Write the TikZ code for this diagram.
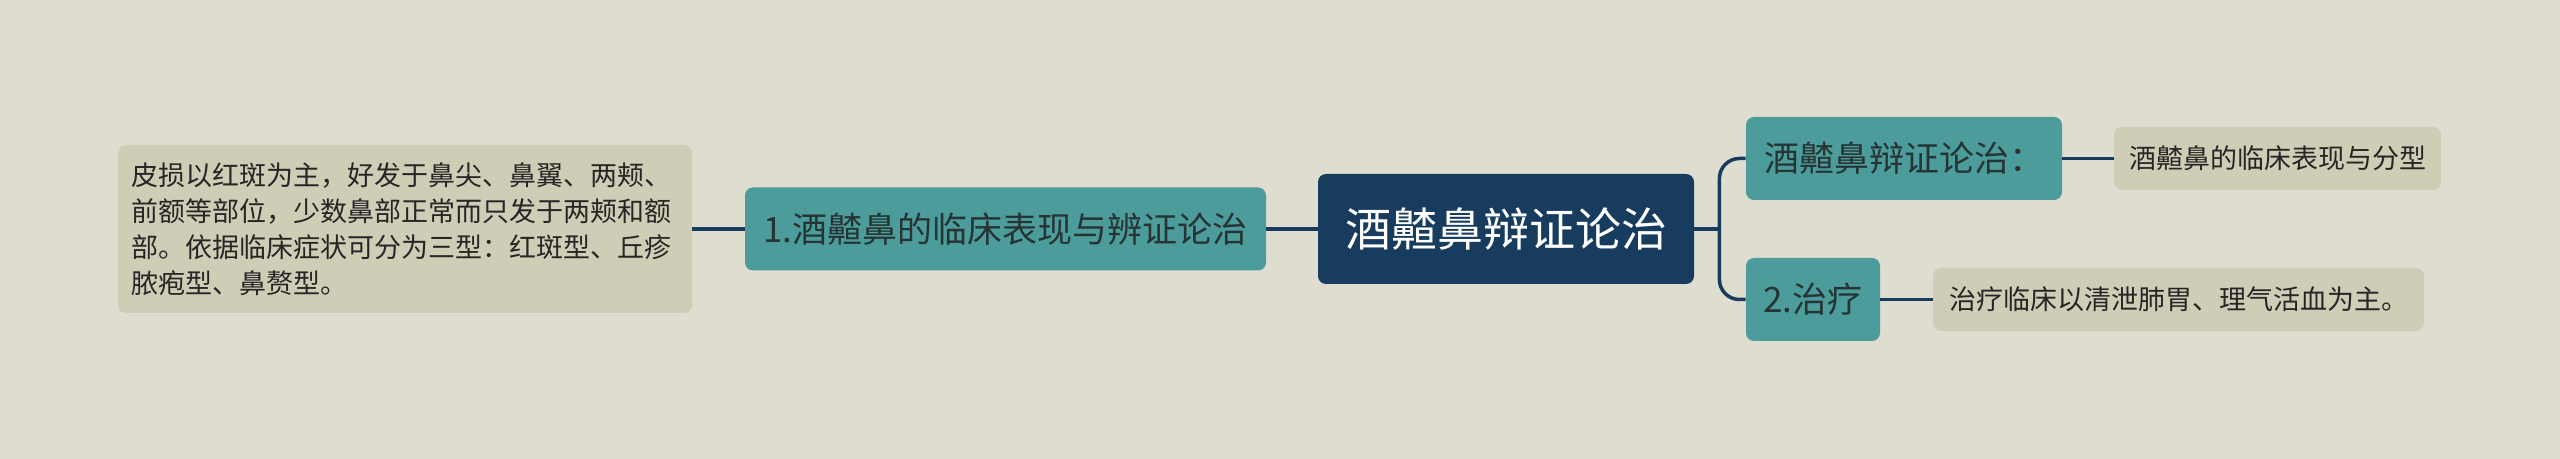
\documentclass[tikz,border=0pt]{standalone}
\usepackage{fontspec}
\setmainfont{Noto Sans CJK SC}
\usetikzlibrary{positioning}

\definecolor{bgcol}{HTML}{DFDDD0}
\definecolor{rootcol}{HTML}{173C5D}
\definecolor{topiccol}{HTML}{4D9C9C}
\definecolor{leafcol}{HTML}{CFCDB6}
\definecolor{linkcol}{HTML}{173C5D}
\definecolor{darktext}{HTML}{263434}

\tikzset{
  rootbox/.style={fill=rootcol, text=white, rounded corners=4pt, inner sep=0pt,
    font=\fontsize{23pt}{27pt}\selectfont},
  topicbox/.style={fill=topiccol, text=darktext, rounded corners=4pt, inner sep=0pt,
    minimum height=41.5pt, font=\fontsize{17.5pt}{21pt}\selectfont},
  leafbox/.style={fill=leafcol, text=black!85, rounded corners=4pt, inner sep=0pt,
    font=\fontsize{13.5pt}{18pt}\selectfont},
  link/.style={draw=linkcol, line width=1.75pt}
}

\begin{document}
\begin{tikzpicture}[x=0.5pt, y=-0.5pt]
\fill[bgcol] (0,0) rectangle (2560,459);
\useasboundingbox (0,0) rectangle (2560,459);

% central topic
\node[rootbox, minimum width=188pt, minimum height=55pt] (root) at (1506,229) {酒齄鼻辩证论治};

% left branch
\node[topicbox, minimum width=260.5pt] (clinic) at (1005.5,229) {1.酒齄鼻的临床表现与辨证论治};
\node[leafbox, minimum width=287pt, minimum height=84pt, text width=274pt, align=left] (clinicleaf) at (405,229)
  {皮损以红斑为主，好发于鼻尖、鼻翼、两颊、\\前额等部位，少数鼻部正常而只发于两颊和额\\部。依据临床症状可分为三型：红斑型、丘疹\\脓疱型、鼻赘型。};

% right branches
\node[topicbox, minimum width=158pt] (method) at (1904,158.5) {酒齄鼻辩证论治：};
\node[leafbox, minimum width=163.5pt, minimum height=31.5pt] (methodleaf) at (2277.5,158.5) {酒齄鼻的临床表现与分型};
\node[topicbox, minimum width=67pt] (treat) at (1813,299.5) {2.治疗};
\node[leafbox, minimum width=245.5pt, minimum height=31.5pt] (treatleaf) at (2178.5,299.5) {治疗临床以清泄肺胃、理气活血为主。};

% connectors
\draw[link] (root.west) -- (clinic.east);
\draw[link] (clinic.west) -- (clinicleaf.east);
\coordinate (fork) at ([xshift=12.5pt]root.east);
\draw[link] (root.east) -- (fork);
\draw[link, rounded corners=10pt] (fork) |- (method.west);
\draw[link, rounded corners=10pt] (fork) |- (treat.west);
\draw[link] (method.east) -- (methodleaf.west);
\draw[link] (treat.east) -- (treatleaf.west);
\end{tikzpicture}
\end{document}
